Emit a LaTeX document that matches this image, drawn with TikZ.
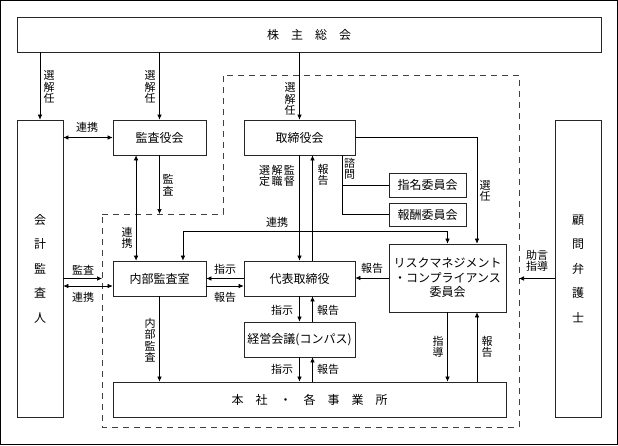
\documentclass[tikz,border=0pt]{standalone}
\usepackage{fontspec}
\setmainfont{Noto Sans CJK JP}
\usetikzlibrary{arrows.meta,calc}

\begin{document}
\begin{tikzpicture}[
    x=1pt, y=-1pt,
    box/.style={rectangle, draw=black!85, line width=0.7pt, inner sep=0pt, align=center, font=\fontsize{12}{14.5}\selectfont},
    arrow/.style={-{Latex[length=5pt,width=4.5pt]}, line width=0.6pt},
    twoway/.style={{Latex[length=5pt,width=4.5pt]}-{Latex[length=5pt,width=4.5pt]}, line width=0.6pt},
    lbl/.style={inner sep=0pt, align=center, font=\fontsize{11}{11.5}\selectfont},
    area/.style={draw=black!75, line width=0.6pt, dash pattern=on 6pt off 5pt}
]
    \useasboundingbox (0,0) rectangle (618,445);
    \draw[line width=0.8pt] (0.5,0.5) rectangle (617,444);

    % Dashed company area
    \coordinate (notch) at (223,214);
    \coordinate (dleft) at (102,427);
    \coordinate (dright) at (519,75);
    \draw[area] (dleft |- notch) -- (notch) -- (notch |- dright) -- (dright) -- (dright |- dleft) -- (dleft) -- cycle;

    % Boxes
    \node[box, minimum width=584pt, minimum height=35pt] (kabu) at (309,34.5) {株　主　総　会};
    \node[box, minimum width=46pt, minimum height=297pt, font=\fontsize{12}{24.5}\selectfont] (kaikei) at (40,268.5) {会\\計\\監\\査\\人};
    \node[box, minimum width=46pt, minimum height=297pt, font=\fontsize{12}{24.5}\selectfont] (komon) at (578,268.5) {顧\\問\\弁\\護\\士};
    \node[box, minimum width=93pt, minimum height=35pt] (kansayaku) at (159.5,137.5) {監査役会};
    \node[box, minimum width=111pt, minimum height=35pt] (torishimari) at (299.5,137.5) {取締役会};
    \node[box, minimum width=77pt, minimum height=24pt] (shimei) at (427.5,185) {指名委員会};
    \node[box, minimum width=77pt, minimum height=23pt] (hoshu) at (427.5,214.5) {報酬委員会};
    \node[box, minimum width=93pt, minimum height=35pt] (naibu) at (159.5,278.5) {内部監査室};
    \node[box, minimum width=111pt, minimum height=35pt] (daihyo) at (299.5,278.5) {代表取締役};
    \node[box, minimum width=111pt, minimum height=35pt] (keiei) at (299.5,339.5) {経営会議(コンパス)};
    \node[box, minimum width=117pt, minimum height=68pt] (risk) at (447.5,278) {リスクマネジメント\\・コンプライアンス\\委員会};
    \node[box, minimum width=393pt, minimum height=35pt] (honsha) at (309.5,399.5) {本　社　・　各　事　業　所};

    % Labels
    \node[lbl] (senkai1) at (49,87) {選\\解\\任};
    \node[lbl] (senkai2) at (150,87) {選\\解\\任};
    \node[lbl] (senkai3) at (290,99) {選\\解\\任};
    \node[lbl] (renkei1) at (87,127) {連携};
    \node[lbl] (kansa1) at (168,185) {監\\査};
    \node[lbl] (renkei2) at (127,238) {連\\携};
    \node[lbl] (sentei) at (277,176) {選\hspace{1.5pt}解\hspace{1.5pt}監\\定\hspace{1.5pt}職\hspace{1.5pt}督};
    \node[lbl] (hokoku1) at (323,175) {報\\告};
    \node[lbl] (shimon) at (349.5,169) {諮\\問};
    \node[lbl] (sennin) at (485,191) {選\\任};
    \node[lbl] (renkei3) at (277,222) {連携};
    \node[lbl] (shiji1) at (225,269) {指示};
    \node[lbl] (hokoku2) at (225,297) {報告};
    \node[lbl] (hokoku3) at (372,268) {報告};
    \node[lbl] (shiji2) at (282,310) {指示};
    \node[lbl] (hokoku4) at (328,310) {報告};
    \node[lbl] (shiji3) at (282,369) {指示};
    \node[lbl] (hokoku5) at (328,369) {報告};
    \node[lbl] (naibukansa) at (150,340) {内\\部\\監\\査};
    \node[lbl] (kansa2) at (83,270) {監査};
    \node[lbl] (renkei4) at (83,297) {連携};
    \node[lbl] (jogen) at (537,261) {助言\\指導};
    \node[lbl] (shido) at (438,347) {指\\導};
    \node[lbl] (hokoku6) at (487,347) {報\\告};

    % Arrows
    \draw[arrow] (kabu.south -| kaikei) -- (kaikei.north);
    \draw[arrow] (kabu.south -| kansayaku) -- (kansayaku.north);
    \draw[arrow] (kabu.south -| torishimari) -- (torishimari.north);
    \draw[twoway] (kaikei.east |- kansayaku) -- (kansayaku.west);
    \draw[arrow] (kansayaku.south) -- (kansayaku.south |- notch);
    \draw[twoway] ($(naibu.north west)!.5!(naibu.north)$) -- ($(kansayaku.south west)!.5!(kansayaku.south)$);
    \draw[twoway] ($(naibu.north)!.5!(naibu.north east)$) -- ++(0,-29) -| (risk.north);
    \draw[arrow] (torishimari.south) -- (daihyo.north);
    \draw[arrow] ($(daihyo.north)+(13,0)$) -- ($(torishimari.south)+(13,0)$);
    \draw[line width=0.6pt] ($(torishimari.south)+(42.5,0)$) |- (hoshu.west)
        ($(torishimari.south)+(42.5,0)$) |- (shimei.west);
    \draw[arrow] (torishimari.east) -| ($(risk.north)+(29.5,0)$);
    \draw[arrow] (daihyo.west) -- (naibu.east);
    \draw[arrow] ($(naibu.east)+(0,7.5)$) -- ($(daihyo.west)+(0,7.5)$);
    \draw[arrow] (risk.west) -- (risk.west -| daihyo.east);
    \draw[arrow] (daihyo.south) -- (keiei.north);
    \draw[arrow] ($(keiei.north)+(13,0)$) -- ($(daihyo.south)+(13,0)$);
    \draw[arrow] (keiei.south) -- (keiei.south |- honsha.north);
    \draw[arrow] ($(keiei.south |- honsha.north)+(13,0)$) -- ($(keiei.south)+(13,0)$);
    \draw[arrow] (naibu.south) -- (naibu.south |- honsha.north);
    \draw[arrow] (kaikei.east |- naibu.west) -- (dleft |- naibu.west);
    \draw[twoway] ($(kaikei.east |- naibu.west)+(0,7.5)$) -- ($(naibu.west)+(0,7.5)$);
    \draw[arrow] (komon.west |- daihyo) -- (dright |- daihyo);
    \draw[arrow] (risk.south) -- (risk.south |- honsha.north);
    \draw[arrow] ($(risk.south |- honsha.north)+(29.5,0)$) -- ($(risk.south)+(29.5,0)$);

\end{tikzpicture}
\end{document}
